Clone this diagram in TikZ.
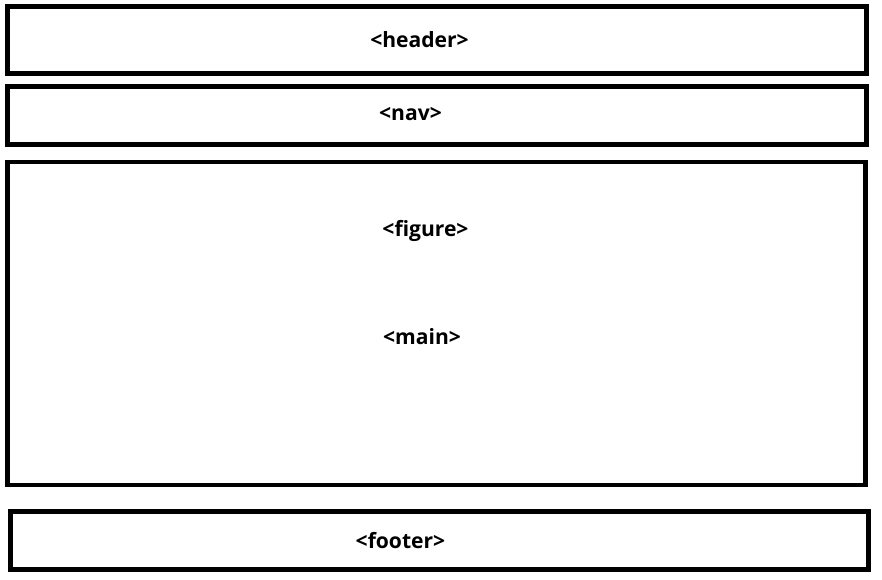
\documentclass[tikz,border=0pt]{standalone}
\usepackage{fontspec}
\setmainfont{Open Sans}
\usetikzlibrary{positioning}

\begin{document}
\begin{tikzpicture}[x=0.02cm,y=-0.02cm]
  \def\lw{2.83pt}   % border thickness, about 5px
  \tikzset{area/.style={draw,line width=\lw,rectangle,inner sep=0pt},
           tag/.style={font=\fontsize{12}{14}\selectfont\bfseries,inner sep=0pt}}
  \useasboundingbox (0,0) rectangle (882,580);
  % page regions
  \node[area,minimum width=859*0.02cm,minimum height=67*0.02cm] (header) at (437,40) {};
  \node[area,minimum width=859*0.02cm,minimum height=58*0.02cm] (nav) at (437,115.5) {};
  \node[area,minimum width=858*0.02cm,minimum height=323*0.02cm] (main) at (436.5,323.5) {};
  \node[area,minimum width=858*0.02cm,minimum height=58*0.02cm] (footer) at (439.5,540.5) {};
  % labels
  \node[tag] (headertag) at (419.5,40) {<header>};
  \node[tag] (navtag) at (410.5,114) {<nav>};
  \node[tag] (figuretag) at (425.5,231) {<figure>};
  \node[tag] (maintag) at (422,337) {<main>};
  \node[tag] (footertag) at (400.5,541) {<footer>};
\end{tikzpicture}
\end{document}
